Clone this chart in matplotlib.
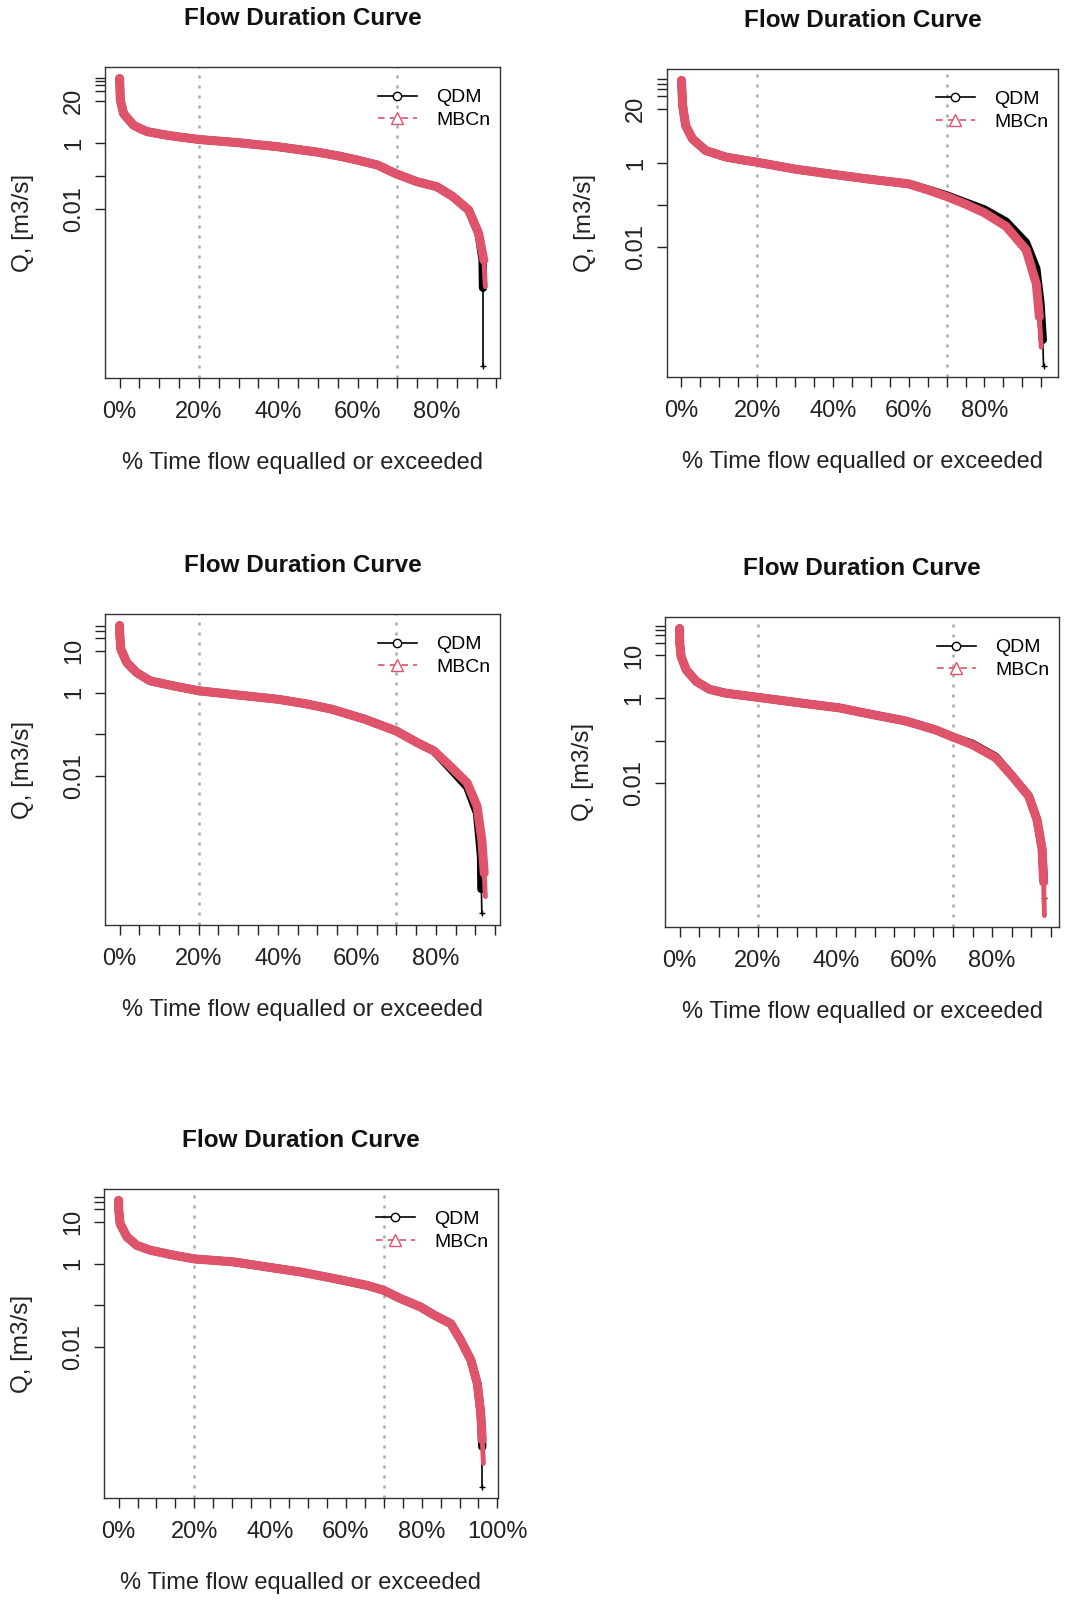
import matplotlib
matplotlib.use("Agg")
import matplotlib.pyplot as plt
from matplotlib.lines import Line2D

plt.rcParams['font.family'] = ['Liberation Sans', 'DejaVu Sans']

PINK = "#DF536B"
GRID = "#A8A8A8"

# ---- panel 1 ----
p1_mbcn_pct = [0, 0.17, 1, 2, 3.5, 5, 6.9, 11.9, 15, 20, 30, 40, 50, 55, 60, 65, 69.6, 75, 80, 84, 88, 90.5, 91.8, 92.2]
p1_mbcn_q = [95, 21, 8.1, 5.8, 3.6, 2.9, 2.3, 1.78, 1.58, 1.32, 1.05, 0.79, 0.54, 0.42, 0.31, 0.22, 0.12, 0.068, 0.048, 0.024, 0.0093, 0.0018, 0.00028, 0.000043]
p1_qdm_pct = [0, 0.17, 1, 2, 3.5, 5, 6.9, 11.9, 15, 20, 30, 40, 50, 55, 60, 65, 69.6, 75, 80, 84, 88, 90.5, 91.5, 91.6, 91.6]
p1_qdm_q = [95, 21, 8.1, 5.8, 3.6, 2.9, 2.3, 1.78, 1.58, 1.32, 1.05, 0.79, 0.54, 0.42, 0.31, 0.22, 0.12, 0.068, 0.048, 0.024, 0.0093, 0.0018, 0.00028, 0.00004, 1.6e-7]
p1_yticks = [0.01, 0.1, 1, 20, 40, 60, 80, 100]
p1_ylabels = ["0.01", "", "1", "20", "", "", "", ""]

# ---- panel 2 ----
p2_mbcn_pct = [0, 0.3, 1.1, 2.9, 6.4, 11.7, 16, 20, 30, 40, 50, 60, 65, 70, 75, 80, 85.7, 91, 93.7, 94.5, 95]
p2_mbcn_q = [95, 24, 7.9, 3.8, 2.0, 1.4, 1.2, 1.05, 0.72, 0.54, 0.41, 0.32, 0.23, 0.16, 0.105, 0.065, 0.031, 0.0085, 0.0013, 0.00021, 0.00004]
p2_qdm_pct = [0, 0.3, 1.1, 2.9, 6.4, 11.7, 16, 20, 30, 40, 50, 60, 65, 70, 75, 80, 85.7, 91, 93.7, 94.8, 95.4, 95.6]
p2_qdm_q = [95, 24, 7.9, 3.8, 2.0, 1.4, 1.2, 1.05, 0.72, 0.54, 0.41, 0.32, 0.235, 0.17, 0.115, 0.078, 0.040, 0.0125, 0.0030, 0.00045, 0.00006, 0.0000145]
p2_yticks = [0.01, 0.1, 1, 20, 40, 60, 80, 100]
p2_ylabels = ["0.01", "", "1", "20", "", "", "", ""]

# ---- panel 3 ----
p3_mbcn_pct = [0, 0.05, 0.3, 1.8, 4.3, 7.7, 13.5, 20, 30, 40, 47, 53.6, 62, 70, 75.3, 79.5, 83.7, 87.9, 90.4, 91.6, 92.2, 92.5]
p3_mbcn_q = [40, 23, 11, 5.2, 3.0, 1.9, 1.45, 1.1, 0.87, 0.69, 0.54, 0.40, 0.23, 0.12, 0.063, 0.04, 0.017, 0.0069, 0.0019, 0.0003, 0.000048, 0.0000132]
p3_qdm_pct = [0, 0.05, 0.3, 1.8, 4.3, 7.7, 13.5, 20, 30, 40, 47, 53.6, 62, 70, 75.3, 79.5, 83.7, 87.9, 90.4, 91.4, 91.5, 91.6]
p3_qdm_q = [40, 23, 11, 5.2, 3.0, 1.9, 1.45, 1.1, 0.87, 0.69, 0.54, 0.40, 0.23, 0.12, 0.063, 0.04, 0.015, 0.0055, 0.0013, 0.00012, 0.00002, 0.0000052]
p3_yticks = [0.01, 0.1, 1, 10, 20, 30, 40]
p3_ylabels = ["0.01", "", "1", "10", "", "", ""]

# ---- panel 4 ----
p4_mbcn_pct = [0, 0.05, 0.4, 1.7, 4.3, 7.7, 11.9, 19.8, 32.3, 40.9, 49.4, 57.9, 65.5, 70.2, 74.9, 80.9, 85.1, 89.4, 91.5, 92.8, 93.2, 93.4]
p4_mbcn_q = [43, 19, 9.3, 4.6, 2.45, 1.6, 1.3, 1.05, 0.74, 0.59, 0.41, 0.29, 0.18, 0.12, 0.081, 0.04, 0.015, 0.005, 0.0014, 0.00029, 0.000048, 0.0000079]
p4_qdm_pct = [0, 0.05, 0.4, 1.7, 4.3, 7.7, 11.9, 19.8, 32.3, 40.9, 49.4, 57.9, 65.5, 70.2, 74.9, 80.9, 85.1, 89.4, 91.5, 92.8, 93.2, 93.4]
p4_qdm_q = [43, 19, 9.3, 4.6, 2.45, 1.6, 1.3, 1.05, 0.74, 0.59, 0.41, 0.29, 0.18, 0.12, 0.085, 0.042, 0.015, 0.005, 0.0014, 0.00029, 0.00006, 0.00002]
p4_yticks = [0.01, 0.1, 1, 10, 20, 30, 40, 50]
p4_ylabels = ["0.01", "", "1", "10", "", "", "", ""]

# ---- panel 5 ----
p5_mbcn_pct = [0, 0.05, 0.4, 2.2, 4.8, 8.4, 14.5, 20, 30.4, 39.2, 48, 56.8, 65.6, 69.9, 74.4, 79.7, 83.3, 87.7, 90.3, 93, 94.7, 95.6, 96, 96.3]
p5_mbcn_q = [33, 19, 9.1, 4.4, 2.75, 2.1, 1.6, 1.3, 1.1, 0.83, 0.63, 0.44, 0.30, 0.23, 0.145, 0.091, 0.058, 0.036, 0.0145, 0.0048, 0.0013, 0.00025, 0.000058, 0.0000158]
p5_qdm_pct = [0, 0.05, 0.4, 2.2, 4.8, 8.4, 14.5, 20, 30.4, 39.2, 48, 56.8, 65.6, 69.9, 74.4, 79.7, 83.3, 87.7, 90.3, 93, 94.7, 95.6, 96, 96]
p5_qdm_q = [33, 19, 9.1, 4.4, 2.75, 2.1, 1.6, 1.3, 1.1, 0.83, 0.63, 0.44, 0.30, 0.23, 0.145, 0.091, 0.058, 0.036, 0.0145, 0.0048, 0.0013, 0.00025, 0.00004, 0.0000044]
p5_yticks = [0.01, 0.1, 1, 10, 20, 30, 40]
p5_ylabels = ["0.01", "", "1", "10", "", "", ""]

x_ticks = list(range(0, 101, 5))
x_labels = [f"{t}%" if t % 20 == 0 else "" for t in x_ticks]
ref_lines = [20, 70]

title = "Flow Duration Curve"
xlab = "% Time flow equalled or exceeded"
ylab = "Q, [m3/s]"

# axes boxes in pixels: left, right, top, bottom
boxes = [(105, 500, 67, 378), (667, 1058, 69, 377),
         (105, 500, 614, 925), (665, 1059, 617, 927),
         (104, 498, 1189, 1498)]

W, H = 1080, 1600
fig = plt.figure(figsize=(W / 100, H / 100), dpi=100)

panels = [
    (p1_qdm_pct, p1_qdm_q, p1_mbcn_pct, p1_mbcn_q, p1_yticks, p1_ylabels),
    (p2_qdm_pct, p2_qdm_q, p2_mbcn_pct, p2_mbcn_q, p2_yticks, p2_ylabels),
    (p3_qdm_pct, p3_qdm_q, p3_mbcn_pct, p3_mbcn_q, p3_yticks, p3_ylabels),
    (p4_qdm_pct, p4_qdm_q, p4_mbcn_pct, p4_mbcn_q, p4_yticks, p4_ylabels),
    (p5_qdm_pct, p5_qdm_q, p5_mbcn_pct, p5_mbcn_q, p5_yticks, p5_ylabels),
]

for (l, r, t, b), (qx, qy, mx, my, yt, yl) in zip(boxes, panels):
    ax = fig.add_axes([l / W, 1 - b / H, (r - l) / W, (b - t) / H])
    ax.set_yscale('log')
    ax.margins(x=0.04, y=0.04)

    # QDM: dense band, thin tail to the last value
    ax.plot(qx[:-1], qy[:-1], color='black', lw=6, solid_capstyle='round', solid_joinstyle='round')
    ax.plot(qx[-2:], qy[-2:], color='black', lw=1.2, marker='+', ms=4, mew=1)
    # MBCn on top
    ax.plot(mx[:-1], my[:-1], color=PINK, lw=6.5, solid_capstyle='round', solid_joinstyle='round')
    ax.plot(mx[-2:], my[-2:], color=PINK, lw=3.5, solid_capstyle='round')

    ax.autoscale_view()
    xlim = ax.get_xlim()
    ylim = ax.get_ylim()

    for v in ref_lines:
        ax.axvline(v, color=GRID, lw=1.8, linestyle=(0, (1.2, 2.8)), zorder=0)

    ax.set_xticks(x_ticks)
    ax.set_xticklabels(x_labels)
    ax.set_yticks(yt)
    ax.set_yticklabels(yl)
    ax.yaxis.set_minor_locator(matplotlib.ticker.NullLocator())
    ax.set_xlim(xlim)
    ax.set_ylim(ylim)
    ax.tick_params(axis='both', length=7.5, width=1, colors='#222222', labelsize=17)
    ax.tick_params(axis='x', pad=9)
    ax.tick_params(axis='y', pad=7, labelrotation=90)
    for lab in ax.get_yticklabels():
        lab.set_va('center')
    for s in ax.spines.values():
        s.set_linewidth(1)
        s.set_color('#333333')

    ax.annotate(title, xy=(0.5, 1), xycoords='axes fraction', xytext=(0, 35),
                textcoords='offset points', ha='center', va='center',
                fontsize=17.5, fontweight='bold', color='#111111')
    ax.annotate(xlab, xy=(0.5, 0), xycoords='axes fraction', xytext=(0, -61),
                textcoords='offset points', ha='center', va='center',
                fontsize=17, color='#222222')
    ax.annotate(ylab, xy=(0, 0.5), xycoords='axes fraction', xytext=(-59, 0),
                textcoords='offset points', ha='center', va='center',
                rotation=90, fontsize=17.5, color='#222222')

    handles = [
        Line2D([], [], color='black', lw=1.2, marker='o', mfc='white', mec='black', ms=6),
        Line2D([], [], color=PINK, lw=1.2, ls=(0, (4, 3)), marker='^', mfc='white', mec=PINK, ms=8),
    ]
    ax.legend(handles, ["QDM", "MBCn"], loc='upper right', bbox_to_anchor=(0.975, 0.93),
              frameon=False, fontsize=14, handlelength=2.0, handletextpad=1.0,
              labelspacing=0.25, borderpad=0, borderaxespad=0)

fig.savefig("out.png", dpi=100, facecolor='white')
